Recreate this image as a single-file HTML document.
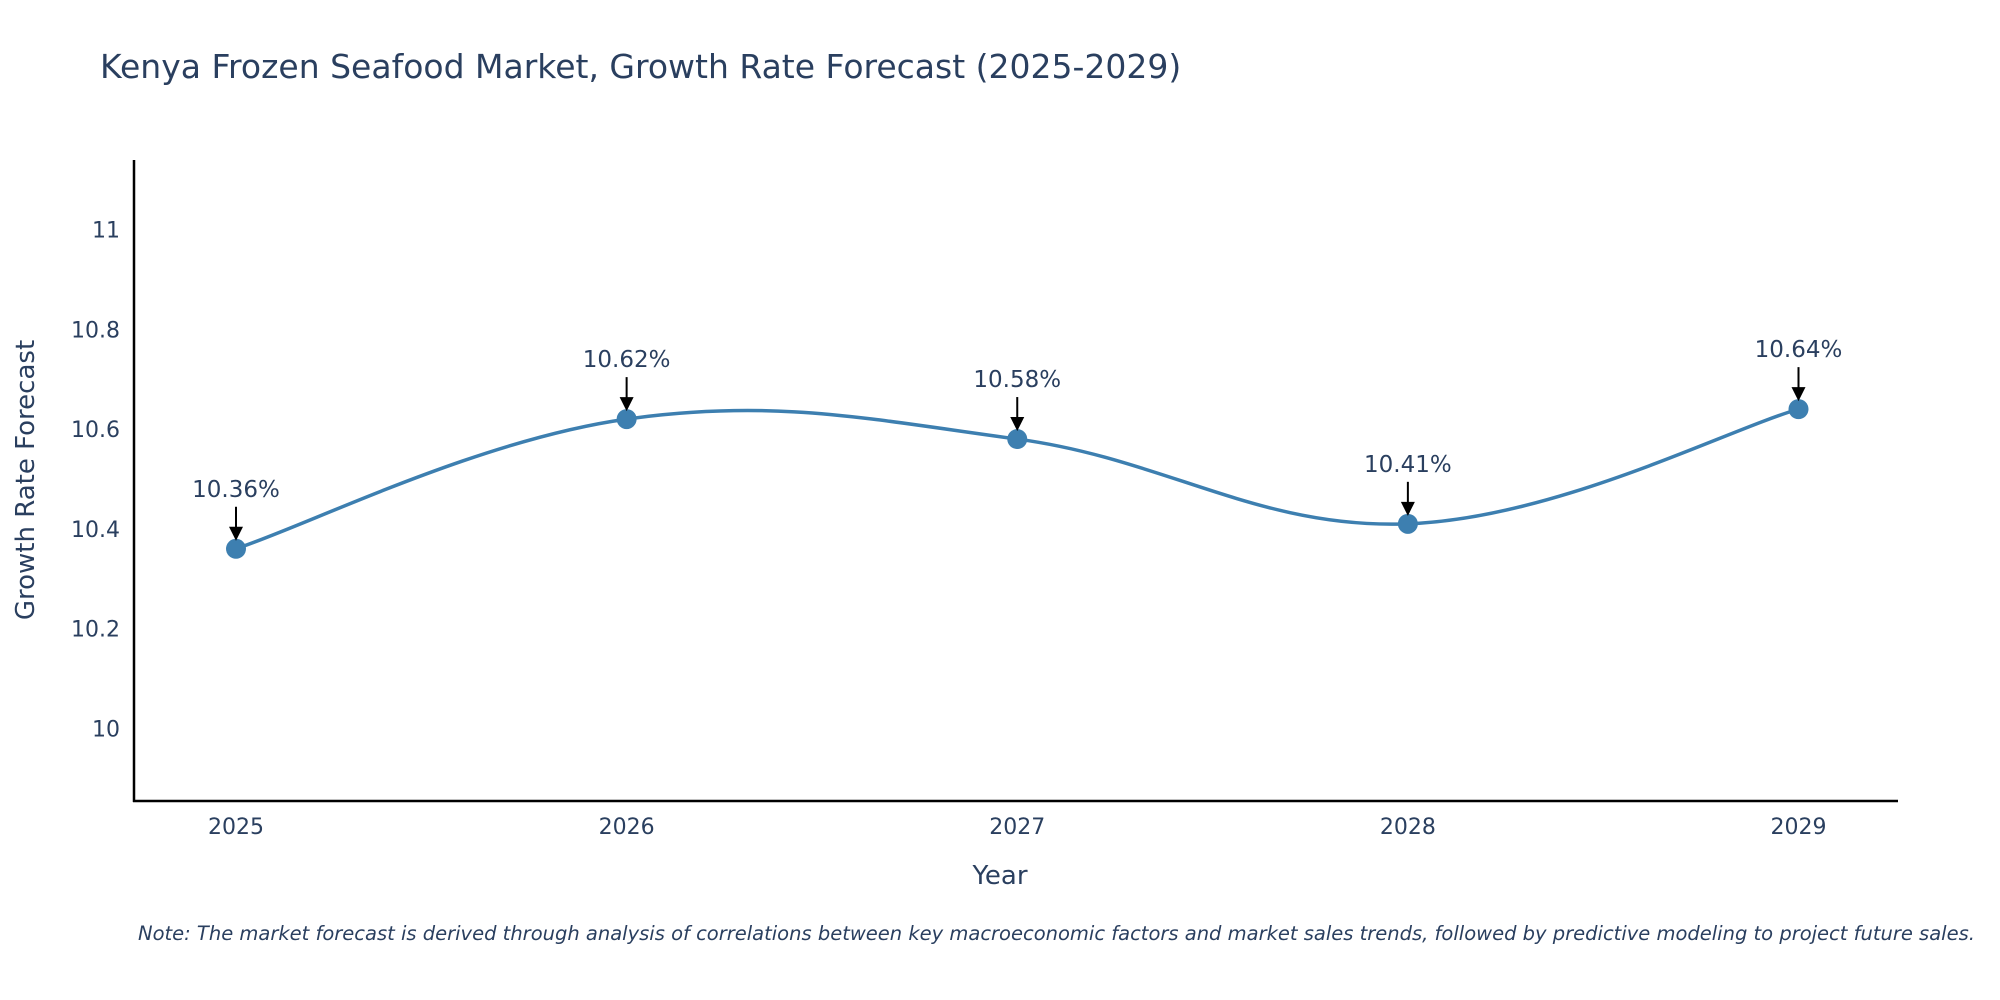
<!DOCTYPE html>
<html><head><meta charset="utf-8"><style>
body{margin:0;background:#fff;}
svg{display:block;font-family:"DejaVu Sans","Liberation Sans",sans-serif;}
</style></head><body>
<svg id="chart" width="2000" height="1000">
<text x="100" y="78" font-size="33" fill="#2a3f5f">Kenya Frozen Seafood Market, Growth Rate Forecast (2025-2029)</text>
<g id="yticks"></g><g id="xticks"></g>
<line x1="134" y1="160" x2="134" y2="802" stroke="#000" stroke-width="2.5"/>
<line x1="133" y1="801" x2="1898" y2="801" stroke="#000" stroke-width="2.5"/>
<path id="line" fill="none" stroke="#3d7fb0" stroke-width="3.5"/>
<g id="marks"></g>
<text x="1000" y="884" font-size="26" fill="#2a3f5f" text-anchor="middle">Year</text>
<text transform="translate(34,480) rotate(-90)" font-size="26" fill="#2a3f5f" text-anchor="middle">Growth Rate Forecast</text>
<text x="138" y="940" font-size="19.5" font-style="italic" fill="#2a3f5f">Note: The market forecast is derived through analysis of correlations between key macroeconomic factors and market sales trends, followed by predictive modeling to project future sales.</text>
</svg>
<script>
const years=["2025","2026","2027","2028","2029"];
const values=[10.36,10.62,10.58,10.41,10.64];
const yTicks=[10,10.2,10.4,10.6,10.8,11];
const NS="http://www.w3.org/2000/svg";
const x0=236,x1=1798.5;
function xs(i){return x0+(x1-x0)*i/(years.length-1);}
function ys(v){return 728.3-(v-10)*498.7;}
function mk(t,a){const e=document.createElementNS(NS,t);for(const k in a)e.setAttribute(k,a[k]);return e;}
const yt=document.getElementById('yticks');
yTicks.forEach(v=>{const t=mk('text',{x:120,y:ys(v)+8,'font-size':22,fill:'#2a3f5f','text-anchor':'end'});


t.textContent=String(v);yt.appendChild(t);});
const xt=document.getElementById('xticks');
years.forEach((y,i)=>{const t=mk('text',{x:xs(i),y:834,'font-size':22,fill:'#2a3f5f','text-anchor':'middle'});


t.textContent=y;xt.appendChild(t);});
const P=values.map((v,i)=>[xs(i),ys(v)]);
let d='M'+P[0][0]+','+P[0][1];
const s=0.19;
for(let i=0;i<P.length-1;i++){const p0=P[Math.max(0,i-1)],p1=P[i],p2=P[i+1],p3=P[Math.min(P.length-1,i+2)];
const c1=[p1[0]+(p2[0]-p0[0])*s,p1[1]+(p2[1]-p0[1])*s],c2=[p2[0]-(p3[0]-p1[0])*s,p2[1]-(p3[1]-p1[1])*s];
d+=' C'+c1+' '+c2+' '+p2;}
document.getElementById('line').setAttribute('d',d);
const m=document.getElementById('marks');
P.forEach((p,i)=>{const c=mk('circle',{cx:p[0],cy:p[1],r:10,fill:'#3d7fb0'});


m.appendChild(c);
const l=mk('line',{x1:p[0],y1:p[1]-42,x2:p[0],y2:p[1]-20,stroke:'#000','stroke-width':2});


m.appendChild(l);
const h=mk('polygon',{points:(p[0]-7)+','+(p[1]-22)+' '+(p[0]+7)+','+(p[1]-22)+' '+p[0]+','+(p[1]-8),fill:'#000'});


m.appendChild(h);
const t=mk('text',{x:p[0],y:p[1]-52,'font-size':23,fill:'#2a3f5f','text-anchor':'middle'});


t.textContent=values[i].toFixed(2)+'%';m.appendChild(t);});
</script>
</body></html>
